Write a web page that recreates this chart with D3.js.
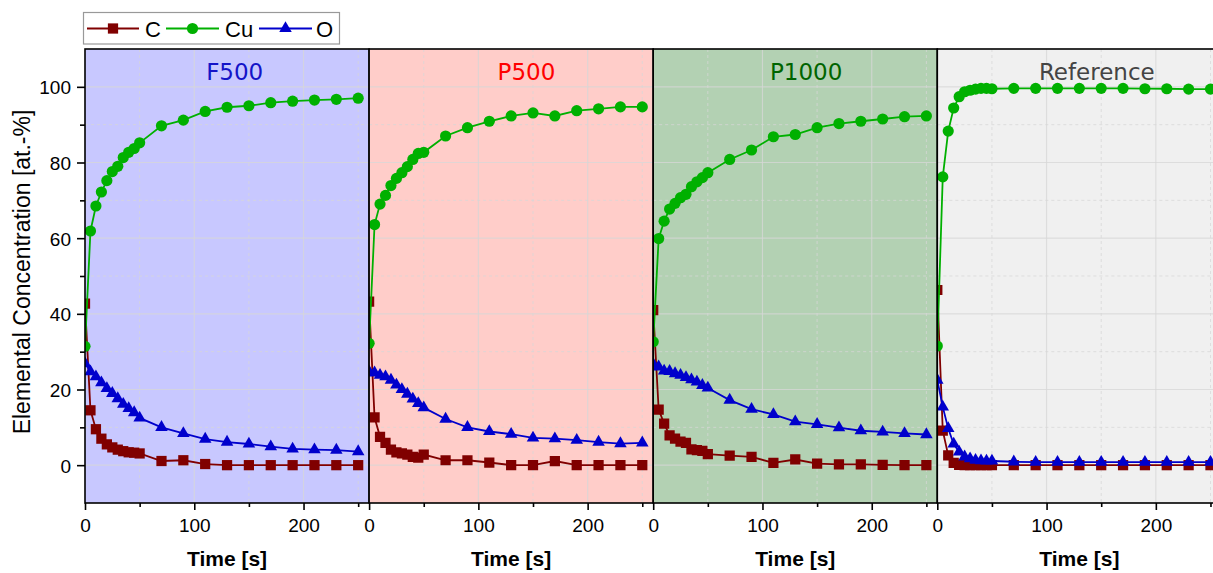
<!DOCTYPE html>
<html>
<head>
<meta charset="utf-8">
<script src="https://cdn.jsdelivr.net/npm/d3@7"></script>
<style>
  html, body { margin: 0; padding: 0; background: #fff; }
  svg { display: block; }
  .tick text { font-family: "Liberation Sans", Arial, sans-serif; font-size: 19px; fill: #000; }
</style>
</head>
<body>
<svg id="chart" width="1213" height="573"></svg>
<script>
// Sputter depth profile: elemental concentration vs. etching time
const times = [0, 5, 10, 15, 20, 25, 30, 35, 40, 45, 50, 70, 90, 110, 130, 150, 170, 190, 210, 230, 250];

const f500C  = [42.7, 14.5, 9.5, 7.0, 5.5, 4.7, 4.1, 3.7, 3.4, 3.3, 3.1, 1.1, 1.3, 0.3, 0, 0, 0, 0, 0, 0, 0];
const f500Cu = [31.4, 61.9, 68.5, 72.2, 75.2, 77.6, 79.0, 81.3, 82.7, 83.7, 85.2, 89.7, 91.2, 93.5, 94.6, 95.0, 95.8, 96.2, 96.5, 96.7, 97.0];
const f500O  = [26.9, 24.7, 23.4, 21.8, 20.3, 19.0, 17.6, 16.1, 15.0, 13.9, 12.5, 10.0, 8.4, 6.9, 6.1, 5.6, 4.9, 4.3, 4.1, 4.0, 3.6];

const p500C  = [43.2, 12.6, 7.5, 5.9, 4.1, 3.4, 3.1, 2.8, 2.2, 2.0, 2.8, 1.3, 1.3, 0.7, 0, 0, 1.1, 0, 0, 0, 0];
const p500Cu = [32.2, 63.6, 69.0, 71.3, 73.9, 75.8, 77.3, 78.9, 80.8, 82.4, 82.7, 87.0, 89.2, 90.9, 92.3, 93.1, 92.3, 93.7, 94.2, 94.7, 94.7];
const p500O  = [24.7, 24.4, 23.8, 23.4, 22.5, 21.2, 20.0, 18.8, 17.5, 16.3, 15.2, 12.2, 10.0, 8.9, 8.2, 7.2, 7.0, 6.6, 6.1, 5.7, 5.9];

const p1000C  = [41.0, 14.7, 11.0, 7.9, 7.0, 6.2, 5.9, 4.2, 4.0, 3.8, 2.9, 2.5, 2.2, 0.6, 1.5, 0.4, 0.2, 0.2, 0.1, 0, 0];
const p1000Cu = [32.6, 59.9, 64.5, 67.7, 69.2, 70.7, 71.6, 73.6, 74.9, 76.0, 77.3, 80.8, 83.3, 86.8, 87.4, 89.2, 90.3, 90.9, 91.5, 92.1, 92.3];
const p1000O  = [26.7, 26.0, 24.9, 24.8, 24.2, 23.8, 23.2, 22.6, 22.0, 21.1, 20.4, 17.2, 14.8, 13.4, 11.5, 10.8, 9.9, 9.1, 8.8, 8.4, 8.1];

const refC  = [46.3, 9.1, 2.6, 0.6, 0.1, 0, 0, 0, 0, 0, 0, 0, 0, 0, 0, 0, 0, 0, 0, 0, 0];
const refCu = [31.5, 76.2, 88.3, 94.4, 97.4, 98.7, 99.1, 99.4, 99.6, 99.6, 99.5, 99.6, 99.6, 99.6, 99.6, 99.6, 99.6, 99.5, 99.5, 99.4, 99.4];
const refO  = [22.5, 15.4, 9.7, 5.6, 3.5, 2.2, 1.7, 1.3, 1.2, 1.1, 1.1, 0.9, 0.8, 0.8, 0.8, 0.8, 0.8, 0.8, 0.8, 0.8, 0.8];

const sampleNames = ["F500", "P500", "P1000", "Reference"];
const elementNames = ["C", "Cu", "O"];
const yMajorTicks = [0, 20, 40, 60, 80, 100];
const yMinorTicks = [10, 30, 50, 70, 90];
const xMajorTicks = [0, 100, 200];
const xMinorTicks = [50, 150, 250];

// Visual styling
const elementStyle = {
  C:  { color: "#800000", shape: "square" },
  Cu: { color: "#00b000", shape: "circle" },
  O:  { color: "#0000cc", shape: "triangle" }
};
const panelStyle = [
  { bg: "#c8c8ff", title: "#1414c8", titleAt: 137 },
  { bg: "#ffcdc9", title: "#ff0000", titleAt: 144 },
  { bg: "#b3d1b3", title: "#006400", titleAt: 140 },
  { bg: "#f0f0f0", title: "#444444", titleAt: 146 }
];
const series = [
  { C: f500C,  Cu: f500Cu,  O: f500O },
  { C: p500C,  Cu: p500Cu,  O: p500O },
  { C: p1000C, Cu: p1000Cu, O: p1000O },
  { C: refC,   Cu: refCu,   O: refO }
];

const svg = d3.select("#chart");
const plotLeft = 85, panelW = 284.1, plotTop = 49, plotBottom = 503;
const font = '"Liberation Sans", Arial, sans-serif';

const y = d3.scaleLinear().domain([-10, 110]).range([plotBottom, plotTop]);

function drawMarker(g, shape, cx, cy, color) {
  if (shape === "circle") {
    g.append("circle").attr("cx", cx).attr("cy", cy).attr("r", 5.6).attr("fill", color);
  } else {
    const sym = shape === "square" ? d3.symbolSquare : d3.symbolTriangle;
    const size = shape === "square" ? 105 : 68;
    g.append("path").attr("d", d3.symbol().type(sym).size(size)())
      .attr("transform", `translate(${cx},${cy})`).attr("fill", color);
  }
}

const defs = svg.append("defs");

sampleNames.forEach((name, i) => {
  const x0 = plotLeft + i * panelW;
  const x = d3.scaleLinear().domain([0, 260]).range([x0, x0 + panelW]);
  const ps = panelStyle[i];
  const g = svg.append("g");

  defs.append("clipPath").attr("id", "clip" + i)
    .append("rect").attr("x", x0).attr("y", plotTop).attr("width", panelW).attr("height", plotBottom - plotTop);

  g.append("rect").attr("x", x0).attr("y", plotTop).attr("width", panelW).attr("height", plotBottom - plotTop)
    .attr("fill", ps.bg);

  // grid
  const grid = g.append("g").attr("clip-path", `url(#clip${i})`);
  const gridColor = "rgba(215,215,215,0.75)";
  grid.selectAll(".hmaj").data(yMajorTicks).join("line")
    .attr("x1", x0).attr("x2", x0 + panelW).attr("y1", d => y(d)).attr("y2", d => y(d))
    .attr("stroke", gridColor).attr("stroke-width", 1.2);
  grid.selectAll(".hmin").data(yMinorTicks).join("line")
    .attr("x1", x0).attr("x2", x0 + panelW).attr("y1", d => y(d)).attr("y2", d => y(d))
    .attr("stroke", gridColor).attr("stroke-width", 1).attr("stroke-dasharray", "3,3");
  grid.selectAll(".vmaj").data(xMajorTicks.filter(d => d > 0)).join("line")
    .attr("x1", d => x(d)).attr("x2", d => x(d)).attr("y1", plotTop).attr("y2", plotBottom)
    .attr("stroke", gridColor).attr("stroke-width", 1.2);
  grid.selectAll(".vmin").data(xMinorTicks).join("line")
    .attr("x1", d => x(d)).attr("x2", d => x(d)).attr("y1", plotTop).attr("y2", plotBottom)
    .attr("stroke", gridColor).attr("stroke-width", 1).attr("stroke-dasharray", "3,3");

  // title
  g.append("text").attr("x", x(ps.titleAt)).attr("y", 80).attr("text-anchor", "middle")
    .attr("font-family", '"DejaVu Sans", Verdana, sans-serif').attr("font-size", 23)
    .attr("fill", ps.title).text(name);

  // data series
  const plot = g.append("g").attr("clip-path", `url(#clip${i})`);
  elementNames.forEach(el => {
    const st = elementStyle[el];
    const vals = series[i][el];
    const pts = times.map((t, k) => [x(t), y(vals[k])]);
    plot.append("path").attr("d", d3.line()(pts)).attr("fill", "none")
      .attr("stroke", st.color).attr("stroke-width", 1.8);
    const mg = plot.append("g");
    pts.forEach(p => drawMarker(mg, st.shape, p[0], p[1], st.color));
  });

  // frame
  g.append("rect").attr("x", x0).attr("y", plotTop).attr("width", panelW).attr("height", plotBottom - plotTop)
    .attr("fill", "none").attr("stroke", "#000").attr("stroke-width", 1.6);

  // bottom axis
  const ax = g.append("g").attr("transform", `translate(0,${plotBottom})`)
    .call(d3.axisBottom(x).tickValues(xMajorTicks).tickSize(7).tickPadding(9).tickFormat(d3.format("d")));
  ax.select(".domain").remove();
  ax.selectAll(".tick line").attr("stroke", "#000").attr("stroke-width", 1.6);
  const axm = g.append("g").attr("transform", `translate(0,${plotBottom})`)
    .call(d3.axisBottom(x).tickValues(xMinorTicks).tickSize(4).tickFormat(""));
  axm.select(".domain").remove();
  axm.selectAll(".tick line").attr("stroke", "#000").attr("stroke-width", 1.6);

  g.append("text").attr("x", x0 + panelW / 2).attr("y", 566).attr("text-anchor", "middle")
    .attr("font-family", font).attr("font-size", 21).attr("font-weight", "bold").text("Time [s]");
});

// left axis
const ay = svg.append("g").attr("transform", `translate(${plotLeft},0)`)
  .call(d3.axisLeft(y).tickValues(yMajorTicks).tickSize(8).tickPadding(6));
ay.select(".domain").remove();
ay.selectAll(".tick line").attr("stroke", "#000").attr("stroke-width", 1.6);
ay.selectAll(".tick text").attr("dy", "0.36em");
const aym = svg.append("g").attr("transform", `translate(${plotLeft},0)`)
  .call(d3.axisLeft(y).tickValues(yMinorTicks).tickSize(5).tickFormat(""));
aym.select(".domain").remove();
aym.selectAll(".tick line").attr("stroke", "#000").attr("stroke-width", 1.6);

svg.append("text").attr("transform", "translate(30,272) rotate(-90)").attr("text-anchor", "middle")
  .attr("font-family", font).attr("font-size", 23).text("Elemental Concentration [at.-%]");

// legend
const lg = svg.append("g");
lg.append("rect").attr("x", 83.5).attr("y", 12.5).attr("width", 256).attr("height", 31.5)
  .attr("fill", "#fff").attr("stroke", "#999").attr("stroke-width", 1.2);
const legendItems = [
  { el: "C", x1: 87, x2: 139, tx: 145 },
  { el: "Cu", x1: 166, x2: 219, tx: 225 },
  { el: "O", x1: 259, x2: 312, tx: 316 }
];
legendItems.forEach(it => {
  const st = elementStyle[it.el];
  lg.append("line").attr("x1", it.x1).attr("x2", it.x2).attr("y1", 28.5).attr("y2", 28.5)
    .attr("stroke", st.color).attr("stroke-width", 1.8);
  drawMarker(lg, st.shape, (it.x1 + it.x2) / 2, 28.5, st.color);
  lg.append("text").attr("x", it.tx).attr("y", 36.5).attr("font-family", font).attr("font-size", 22)
    .text(it.el);
});
</script>
</body>
</html>
